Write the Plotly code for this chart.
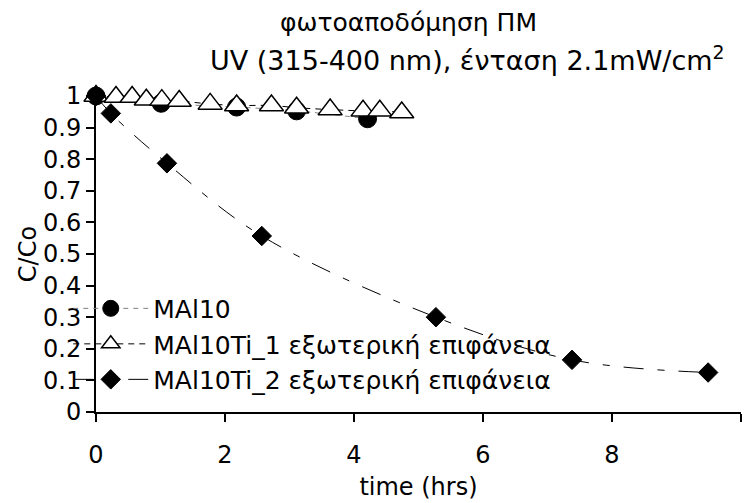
import plotly.graph_objects as go

# Photodegradation data: C/Co versus irradiation time (hrs)
t_mal10 = [0, 1.01, 2.18, 3.11, 4.21]
c_mal10 = [1.0, 0.977, 0.965, 0.953, 0.928]

t_ti1 = [0, 0.31, 0.56, 0.78, 1.02, 1.29, 1.77, 2.18, 2.72, 3.11, 3.63, 4.14, 4.40, 4.74]
c_ti1 = [1.0, 0.997, 0.997, 0.988, 0.987, 0.984, 0.975, 0.97, 0.97, 0.963, 0.957, 0.953, 0.953, 0.948]

t_ti2 = [0, 0.23, 1.10, 2.57, 5.27, 7.38, 9.49]
c_ti2 = [1.0, 0.945, 0.787, 0.557, 0.30, 0.165, 0.125]

names = ["MAl10", "MAl10Ti_1 εξωτερική επιφάνεια", "MAl10Ti_2 εξωτερική επιφάνεια"]
x_ticks = [0, 2, 4, 6, 8, 10]

FONT = "DejaVu Sans"

fig = go.Figure()

fig.add_trace(go.Scatter(
    x=t_mal10, y=c_mal10, name=names[0], mode="lines+markers",
    line=dict(color="#808080", width=1, dash="5px,5px", shape="spline"),
    marker=dict(symbol="circle", size=18, color="black", line=dict(color="black", width=1)),
    cliponaxis=False,
))
fig.add_trace(go.Scatter(
    x=t_ti1, y=c_ti1, name=names[1], mode="lines+markers",
    line=dict(color="black", width=1, dash="6px,5px", shape="spline"),
    marker=dict(symbol="triangle-up", size=21, color="white", line=dict(color="black", width=1.5)),
    cliponaxis=False,
))
fig.add_trace(go.Scatter(
    x=t_ti2, y=c_ti2, name=names[2], mode="lines+markers",
    line=dict(color="black", width=1, dash="20px,14px,7px,14px", shape="spline"),
    marker=dict(symbol="diamond", size=15, color="black", line=dict(color="black", width=1)),
    cliponaxis=False,
))

fig.update_layout(
    width=753, height=503,
    margin=dict(l=96, r=12, t=96, b=91),
    paper_bgcolor="white", plot_bgcolor="white",
    font=dict(family=FONT, size=24, color="black"),
    showlegend=True,
    legend=dict(
        x=-0.043, y=0.40, xanchor="left", yanchor="top",
        bgcolor="rgba(0,0,0,0)", font=dict(family=FONT, size=25),
        itemwidth=75, tracegroupgap=0,
    ),
    xaxis=dict(
        range=[0, 10], tickvals=x_ticks, showgrid=False, zeroline=False,
        showline=True, linecolor="black", linewidth=2, automargin=False,
        ticks="outside", ticklen=8, tickwidth=2, tickcolor="black",
        tickfont=dict(size=24), ticklabelstandoff=12,
        title=dict(text="time (hrs)", font=dict(size=24), standoff=10),
    ),
    yaxis=dict(
        range=[0, 1], dtick=0.1, showgrid=False, zeroline=False,
        showline=True, linecolor="black", linewidth=2, automargin=False,
        ticks="outside", ticklen=8, tickwidth=2, tickcolor="black",
        tickfont=dict(size=24),
        title=dict(text="C/Co", font=dict(size=24), standoff=0),
    ),
    annotations=[
        dict(text="φωτοαποδόμηση ΠΜ", xref="paper", yref="paper",
             x=(408 - 96) / 645, y=(412 - 22) / 316, xanchor="center", yanchor="middle",
             showarrow=False, font=dict(size=25)),
        dict(text="UV (315-400 nm), ένταση 2.1mW/cm<sup>2</sup>", xref="paper", yref="paper",
             x=(467 - 96) / 645, y=(412 - 58) / 316, xanchor="center", yanchor="middle",
             showarrow=False, font=dict(size=27)),
    ],
)

fig.write_html("out.html")
